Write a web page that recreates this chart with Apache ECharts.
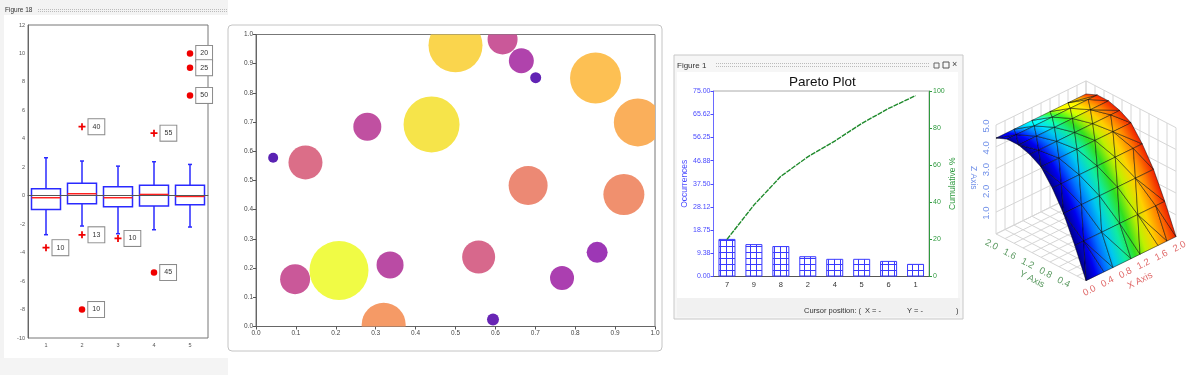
<!DOCTYPE html>
<html lang="en">
<head>
<meta charset="UTF-8">
<title>Chart gallery</title>
<script src="https://cdn.jsdelivr.net/npm/echarts@6/dist/echarts.min.js"></script>
<style type="text/css">
    body {margin: 0; background: #fff;}
    #main {width: 1200px; height: 375px;}
</style>
</head>
<body>
<div id="main"></div>
<script type="text/javascript">
// box plot
var boxCategories = ['1', '2', '3', '4', '5'];
var whiskerLow = [-2.74, -2.13, -2.67, -2.39, -2.2];
var quartile1 = [-0.96, -0.56, -0.77, -0.73, -0.63];
var medians = [-0.14, 0.14, -0.14, 0.09, -0.05];
var quartile3 = [0.49, 0.87, 0.63, 0.73, 0.73];
var whiskerHigh = [2.67, 2.44, 2.08, 2.39, 2.2];
var plusOutliers = [[0, -3.65, 10], [1, 4.85, 40], [1, -2.75, 13], [2, -3, 10], [3, 4.4, 55]];
var dotOutliers = [[1, -8, 10], [3, -5.4, 45], [4, 10, 20], [4, 9, 25], [4, 7.05, 50]];

// bubbles: x, y, size
var bubbles = [
    [0.043, 0.578, 10], [0.124, 0.562, 34], [0.279, 0.684, 28], [0.44, 0.692, 56],
    [0.5, 0.963, 54], [0.618, 0.983, 30], [0.665, 0.91, 25], [0.701, 0.852, 11],
    [0.851, 0.851, 51], [0.957, 0.699, 48], [0.682, 0.483, 39], [0.922, 0.452, 41],
    [0.558, 0.238, 33], [0.855, 0.254, 21], [0.767, 0.166, 24], [0.594, 0.024, 12],
    [0.336, 0.211, 27], [0.098, 0.162, 30], [0.208, 0.192, 59], [0.32, 0.006, 44]
];
var bubbleColors = ['#5a22b3', '#8a2cbb', '#ab3fb0', '#cf5c95', '#ea8577', '#f79e63', '#fec650', '#f0fb45'];

// pareto
var paretoCategories = ['7', '9', '8', '2', '4', '5', '6', '1'];
var occurrences = [15.2, 13.1, 12.3, 8.2, 7.15, 7.15, 6.3, 5.1];
var cumulative = [20, 38.5, 54, 64.5, 73, 82.5, 90.6, 97.5];
var occurrenceTicks = ['0.00', '9.38', '18.75', '28.12', '37.50', '46.88', '56.25', '65.62', '75.00'];

// surface: height for each y row, nodes staggered in x
var surfaceY = [0, 0.25, 0.5, 0.75, 1, 1.25, 1.5, 1.75, 2];
var surfaceZ = [0, 1.35, 2.55, 3.45, 4.15, 4.45, 4.62, 4.62, 4.4];
var firstRowX = [0, 0.4, 0.6, 1, 1.2, 1.6, 1.8, 2];
var evenRowX = [0, 0.4, 0.8, 1.2, 1.6, 2];
var oddRowX = [0, 0.2, 0.6, 1, 1.4, 1.8, 2];
var xTicks3d = [0, 0.4, 0.8, 1.2, 1.6, 2];
var yTicks3d = [0.4, 0.8, 1.2, 1.6, 2];
var zTicks3d = [1, 2, 3, 4, 5];
var jetColors = ['#00008c', '#0000f0', '#0070ff', '#00c8f0', '#10eca0', '#30e020', '#c0f000', '#ffd000', '#ff8000', '#f02000'];

function project(x, y, z) {
    return [x - y, 0.49 * x + 0.52 * y + 0.484 * z];
}

function rowNodes(r) {
    if (r == 0) return firstRowX;
    return r % 2 ? oddRowX : evenRowX;
}

// triangles between neighbouring rows, far rows first
var triangles = [];
for (var r = surfaceY.length - 2; r >= 0; r--) {
    var low = rowNodes(r), high = rowNodes(r + 1), i = 0, j = 0;
    var slope = (surfaceZ[r + 1] - surfaceZ[r]) / (surfaceY[r + 1] - surfaceY[r]);
    while (i < low.length - 1 || j < high.length - 1) {
        var a = [low[i], surfaceY[r], surfaceZ[r]];
        var b = [high[j], surfaceY[r + 1], surfaceZ[r + 1]];
        if (j == high.length - 1 || (i < low.length - 1 && low[i + 1] <= high[j + 1])) {
            i++;
            triangles.push({pts: [a, b, [low[i], surfaceY[r], surfaceZ[r]]], slope: slope});
        } else {
            j++;
            triangles.push({pts: [a, b, [high[j], surfaceY[r + 1], surfaceZ[r + 1]]], slope: slope});
        }
    }
}

// gradient of x across one projected triangle
function triangleFill(p, tri) {
    var t0 = tri.pts[0][0] / 2, t1 = tri.pts[1][0] / 2, t2 = tri.pts[2][0] / 2;
    var ax = p[1][0] - p[0][0], ay = p[1][1] - p[0][1], bx = p[2][0] - p[0][0], by = p[2][1] - p[0][1];
    var det = ax * by - ay * bx;
    var gx = ((t1 - t0) * by - (t2 - t0) * ay) / det, gy = ((t2 - t0) * ax - (t1 - t0) * bx) / det;
    var len = gx * gx + gy * gy;
    var sx = p[0][0] - t0 * gx / len, sy = p[0][1] - t0 * gy / len;
    var shade = Math.min(1, 0.45 + 0.45 * (tri.slope + 1));
    var stops = jetColors.map(function (c, k) {
        return {offset: k / (jetColors.length - 1), color: echarts.color.lift(c, shade - 1)};
    });
    return new echarts.graphic.LinearGradient(sx, sy, sx + gx / len, sy + gy / len, stops, true);
}

// back walls and floor
var wallSegments = [];
for (var s = 0; s <= 10; s++) {
    var t = s / 5;
    wallSegments.push([[t, 2, 0], [t, 2, 5]], [[2, t, 0], [2, t, 5]], [[t, 0, 0], [t, 2, 0]], [[0, t, 0], [2, t, 0]]);
}
for (var h = 0; h <= 5; h++) {
    wallSegments.push([[0, 2, h], [2, 2, h]], [[2, 0, h], [2, 2, h]]);
}

var texts3d = [];
xTicks3d.forEach(function (v) {
    texts3d.push({pos: [v, 0, 0], dx: 3.5, dy: 10, rot: 27, color: '#e06a6a', text: v.toFixed(1), size: 9.5});
});
yTicks3d.forEach(function (v) {
    texts3d.push({pos: [0, v, 0], dx: -4.5, dy: 11, rot: -27, color: '#5c9a62', text: v.toFixed(1), size: 9.5});
});
zTicks3d.forEach(function (v) {
    texts3d.push({pos: [0, 2, v], dx: -10, dy: 1, rot: 90, color: '#6f8fe8', text: v.toFixed(1), size: 9.5});
});
texts3d.push({pos: [1, 0, 0], dx: 9, dy: 22, rot: 27, color: '#e06a6a', text: 'X Axis', size: 9.5});
texts3d.push({pos: [0, 1, 0], dx: -9, dy: 22, rot: -27, color: '#5c9a62', text: 'Y Axis', size: 9.5});
texts3d.push({pos: [0, 2, 2.3], dx: -23, dy: -6, rot: -90, color: '#6f8fe8', text: 'Z Axis', size: 8.5});

function coord3d(api, pt) {
    return api.coord(project(pt[0], pt[1], pt[2]));
}

function renderBox(params, api) {
    var x = api.value(0);
    var c = function (v) { return api.coord([x, v]); };
    var low = c(api.value(1)), q1 = c(api.value(2)), med = c(api.value(3)), q3 = c(api.value(4)), up = c(api.value(5));
    var w = 14.5, cap = 2, px = low[0];
    var line = {stroke: '#2a2aff', lineWidth: 1.5, fill: null};
    return {
        type: 'group',
        children: [
            {type: 'line', shape: {x1: px, y1: up[1], x2: px, y2: q3[1]}, style: line},
            {type: 'line', shape: {x1: px, y1: q1[1], x2: px, y2: low[1]}, style: line},
            {type: 'line', shape: {x1: px - cap, y1: up[1], x2: px + cap, y2: up[1]}, style: line},
            {type: 'line', shape: {x1: px - cap, y1: low[1], x2: px + cap, y2: low[1]}, style: line},
            {type: 'rect', shape: {x: px - w, y: q3[1], width: 2 * w, height: q1[1] - q3[1]}, style: line},
            {type: 'line', shape: {x1: px - w, y1: med[1], x2: px + w, y2: med[1]}, style: {stroke: '#ff2020', lineWidth: 1.5}}
        ]
    };
}

var outlierLabel = {
    show: true, position: 'right', distance: 3, formatter: function (p) { return p.value[2]; },
    fontSize: 7, fontFamily: 'Liberation Sans', color: '#333', backgroundColor: '#fff',
    borderColor: '#8a8a8a', borderWidth: 1, padding: [4, 4, 4, 4]
};

var hatch = document.createElement('canvas');
hatch.width = 6;
hatch.height = 6;
var hatchCtx = hatch.getContext('2d');
hatchCtx.fillStyle = '#fff';
hatchCtx.fillRect(0, 0, 6, 6);
hatchCtx.fillStyle = '#3a3aff';
hatchCtx.fillRect(0, 0, 6, 1);
hatchCtx.fillRect(0, 0, 1, 6);

function rect(x, y, w, h, fill, stroke, radius) {
    return {type: 'rect', z: -5, silent: true, shape: {x: x, y: y, width: w, height: h, r: radius || 0},
        style: {fill: fill, stroke: stroke || null, lineWidth: 1}};
}
function label(x, y, text, size, color) {
    return {type: 'text', z: 5, silent: true, x: x, y: y, style: {text: text, fontSize: size, fontFamily: 'Liberation Sans', fill: color || '#333', verticalAlign: 'middle'}};
}
function dots(x1, x2, y) {
    return {type: 'line', z: 5, silent: true, shape: {x1: x1, y1: y, x2: x2, y2: y}, style: {stroke: '#bbb', lineWidth: 1, lineDash: [1, 1]}};
}

var option = {
    animation: false,
    backgroundColor: '#fff',
    textStyle: {fontFamily: 'Liberation Sans'},
    title: [{
        text: 'Pareto Plot', left: 784, top: 70,
        textStyle: {fontSize: 13.5, fontWeight: 'normal', color: '#111', fontFamily: 'Liberation Sans'}
    }],
    graphic: [
        rect(0, 0, 228, 15, '#f3f3f3'), rect(0, 358, 228, 17, '#f4f4f4'), rect(0, 15, 4, 343, '#f3f3f3'),
        label(5, 10.5, 'Figure 18', 6.5, '#333'), dots(38, 228, 9.5), dots(38, 228, 11.5),
        rect(228, 25, 434, 326, '#fff', '#c4c4c4', 4),
        rect(674, 55, 289, 264, '#f6f6f6', '#c8c8c8'), rect(677, 72, 281, 226, '#fff'), rect(677, 298, 283, 19, '#f1f1f1'),
        label(677, 65.5, 'Figure 1', 8, '#333'), dots(716, 930, 63.5), dots(716, 930, 66.5),
        rect(934, 63, 5, 5, 'transparent', '#666'), rect(943, 62, 6, 6, 'transparent', '#555'), label(952, 65, '×', 9, '#444'),
        label(804, 311, 'Cursor position: (', 7.5, '#333'), label(865, 311, 'X = -', 7.5, '#333'), label(907, 311, 'Y = -', 7.5, '#333'), label(956, 311, ')', 7.5, '#333')
    ],
    grid: [
        {left: 28, top: 25, width: 180, height: 313, show: true, backgroundColor: '#fff', borderColor: '#777', borderWidth: 1},
        {left: 256, top: 34.5, width: 399, height: 292, show: true, backgroundColor: '#fff', borderColor: '#777', borderWidth: 1},
        {left: 713.5, top: 91, width: 215.5, height: 185.5, show: true, backgroundColor: '#fff', borderColor: '#aaa', borderWidth: 1},
        {left: 973.5, top: 78.2, width: 225, height: 225}
    ],
    xAxis: [
        {type: 'category', gridIndex: 0, data: boxCategories, axisTick: {alignWithLabel: true, length: 2, lineStyle: {color: '#555'}},
            axisLine: {lineStyle: {color: '#666'}}, axisLabel: {fontSize: 5.5, color: '#555', margin: 4}},
        {type: 'value', gridIndex: 1, min: 0, max: 1, interval: 0.1, splitLine: {show: false},
            axisTick: {length: 3, lineStyle: {color: '#555'}}, axisLine: {lineStyle: {color: '#666'}},
            axisLabel: {fontSize: 6.5, color: '#444', margin: 3, showMinLabel: true, showMaxLabel: true, formatter: function (v) { return v.toFixed(1); }}},
        {type: 'category', gridIndex: 2, data: paretoCategories, axisTick: {alignWithLabel: true, length: 3, lineStyle: {color: '#444'}},
            axisLine: {lineStyle: {color: '#555'}}, axisLabel: {fontSize: 7.5, color: '#333', margin: 4}},
        {type: 'value', gridIndex: 3, min: -2.5, max: 2.5, show: false}
    ],
    yAxis: [
        {type: 'value', gridIndex: 0, min: -10, max: 12, interval: 2, splitLine: {show: false},
            axisTick: {length: 3, lineStyle: {color: '#555'}}, axisLine: {show: true, lineStyle: {color: '#666'}},
            axisLabel: {fontSize: 5.5, color: '#555', margin: 3}},
        {type: 'value', gridIndex: 1, min: 0, max: 1, interval: 0.1, splitLine: {show: false},
            axisTick: {length: 3, lineStyle: {color: '#555'}}, axisLine: {show: true, lineStyle: {color: '#666'}},
            axisLabel: {fontSize: 6.5, color: '#444', margin: 3, showMinLabel: true, showMaxLabel: true, formatter: function (v) { return v.toFixed(1); }}},
        {type: 'value', gridIndex: 2, min: 0, max: 75, interval: 9.375, splitLine: {show: false},
            name: 'Occurrences', nameLocation: 'middle', nameGap: 18, nameTextStyle: {fontSize: 8.5, color: '#4a4aff'},
            axisTick: {show: true, length: 3, lineStyle: {color: '#4a4aff'}}, axisLine: {show: true, lineStyle: {color: '#6a6aff'}},
            axisLabel: {fontSize: 7, color: '#4a4aff', margin: 3, formatter: function (v) { return occurrenceTicks[Math.round(v / 9.375)]; }}},
        {type: 'value', gridIndex: 2, position: 'right', min: 0, max: 100, interval: 20, splitLine: {show: false},
            name: 'Cumulative %', nameLocation: 'middle', nameGap: 17, nameRotate: 90, nameTextStyle: {fontSize: 8.5, color: '#2e9a3e'},
            axisTick: {show: true, length: 3, lineStyle: {color: '#2e9a3e'}}, axisLine: {show: true, lineStyle: {color: '#2e9a3e'}},
            axisLabel: {fontSize: 7, color: '#2e9a3e', margin: 4}},
        {type: 'value', gridIndex: 3, min: -0.5, max: 4.5, show: false}
    ],
    visualMap: [{
        show: false, seriesIndex: 3, dimension: 2, min: 10, max: 59, inRange: {color: bubbleColors}
    }],
    series: [
        {
            type: 'custom', xAxisIndex: 0, yAxisIndex: 0, renderItem: renderBox,
            encode: {x: 0, y: [1, 2, 3, 4, 5]},
            data: boxCategories.map(function (c, k) {
                return [k, whiskerLow[k], quartile1[k], medians[k], quartile3[k], whiskerHigh[k]];
            }),
            z: 2
        },
        {
            type: 'scatter', xAxisIndex: 0, yAxisIndex: 0, data: plusOutliers, z: 3,
            symbol: 'path://M3 0H5V3H8V5H5V8H3V5H0V3H3Z', symbolSize: 7, itemStyle: {color: '#f00000', opacity: 1},
            label: outlierLabel,
            markLine: {silent: true, symbol: 'none', label: {show: false}, lineStyle: {color: '#555', type: 'solid', width: 1}, data: [{yAxis: 0}]}
        },
        {
            type: 'scatter', xAxisIndex: 0, yAxisIndex: 0, data: dotOutliers, z: 3,
            symbol: 'circle', symbolSize: 6.5, itemStyle: {color: '#f00000', opacity: 1}, label: outlierLabel
        },
        {
            // custom so that bubbles are cut at the plot edge
            type: 'custom', xAxisIndex: 1, yAxisIndex: 1, data: bubbles, clip: true, encode: {x: 0, y: 1},
            renderItem: function (params, api) {
                var c = api.coord([api.value(0), api.value(1)]);
                return {type: 'circle', shape: {cx: c[0], cy: c[1], r: api.value(2) / 2}, style: {fill: api.visual('color')}};
            }
        },
        {
            type: 'bar', xAxisIndex: 2, yAxisIndex: 2, data: occurrences, barWidth: 17,
            itemStyle: {color: {image: hatch, repeat: 'repeat'}, borderColor: '#3a3aff', borderWidth: 1}
        },
        {
            type: 'line', xAxisIndex: 2, yAxisIndex: 3, data: cumulative, symbol: 'none',
            lineStyle: {color: '#1f8a2c', width: 1.4, type: [5, 1]}
        },
        {
            type: 'custom', xAxisIndex: 3, yAxisIndex: 4, data: wallSegments.map(function (s, k) { return k; }),
            renderItem: function (params, api) {
                var seg = wallSegments[params.dataIndex], p = coord3d(api, seg[0]), q = coord3d(api, seg[1]);
                return {type: 'line', shape: {x1: p[0], y1: p[1], x2: q[0], y2: q[1]}, style: {stroke: '#d6d6d6', lineWidth: 1}};
            },
            clip: false, z: 1, silent: true
        },
        {
            type: 'custom', xAxisIndex: 3, yAxisIndex: 4, data: triangles.map(function (t, k) { return k; }),
            renderItem: function (params, api) {
                var tri = triangles[params.dataIndex];
                var pts = tri.pts.map(function (pt) { return coord3d(api, pt); });
                return {type: 'polygon', shape: {points: pts}, style: {fill: triangleFill(pts, tri), stroke: 'rgba(0,0,0,0.65)', lineWidth: 0.7}};
            },
            clip: false, z: 2, silent: true
        },
        {
            type: 'custom', xAxisIndex: 3, yAxisIndex: 4, data: texts3d.map(function (t, k) { return k; }),
            renderItem: function (params, api) {
                var t = texts3d[params.dataIndex], p = coord3d(api, t.pos);
                return {
                    type: 'text', x: p[0] + t.dx, y: p[1] + t.dy, rotation: t.rot * Math.PI / 180,
                    style: {text: t.text, fontSize: t.size, fontFamily: 'Liberation Sans', fill: t.color, align: 'center', verticalAlign: 'middle'}
                };
            },
            clip: false, z: 3, silent: true
        }
    ]
};

var myChart = echarts.init(document.getElementById('main'), null, {renderer: 'canvas'});
myChart.setOption(option);
</script>
</body>
</html>
